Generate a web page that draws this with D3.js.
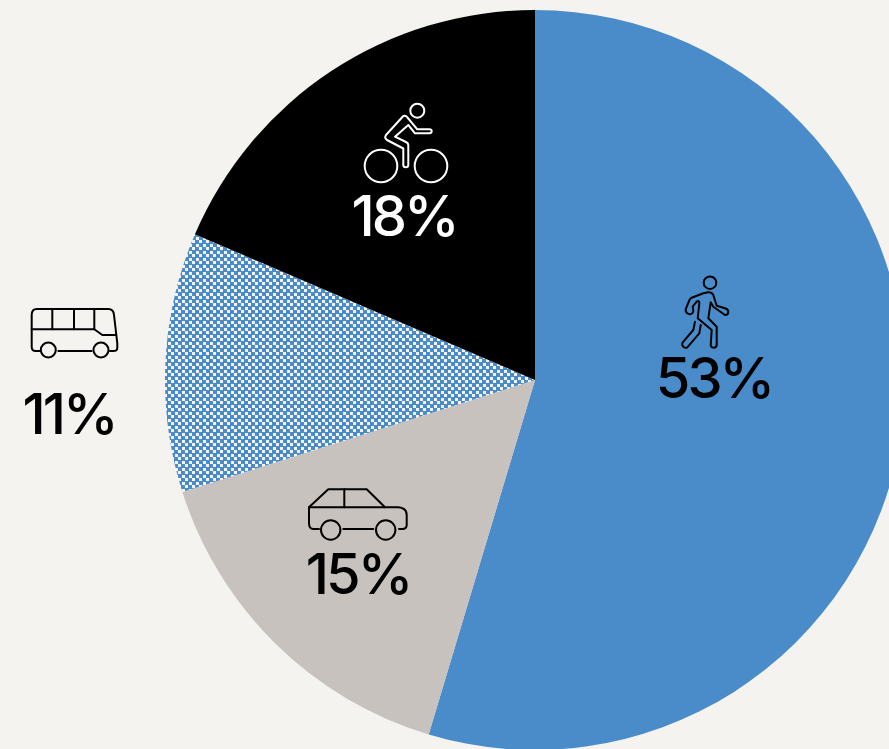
<!DOCTYPE html>
<html>
<head>
<meta charset="utf-8">
<script src="https://cdn.jsdelivr.net/npm/d3@7"></script>
<style>
html, body { margin: 0; padding: 0; background: #f4f3f0; overflow: hidden; }
text { font-family: Inter, sans-serif; font-weight: 500; font-size: 56px; letter-spacing: -3px; text-anchor: middle; }
.icon { fill: none; stroke-width: 2; stroke-linecap: round; stroke-linejoin: round; }
</style>
</head>
<body>
<script>
const categories = ['walk', 'car', 'bus', 'bike'];
const values = [53, 15, 11, 18];
const fills = ['#4a8cca', '#c8c2be', 'url(#check)', '#000000'];
const inkColors = ['#000', '#000', '#000', '#fff'];

// label and icon spots, measured from the pie centre
const labelSpots = [[179, 18], [-177, 214], [-466, 54], [-131, -144]];
const iconSpots = [[175, -68], [-177, 135], [-461, -49], [-129, -240]];

const icons = {
  walk: [
    'M-6.7-18.7-18.3-14.3Q-20-13.5-20.5-12L-24-3.7Q-25 0-22.7 1.3-19.5 3.5-17.5 1-16.5 0-16.7-1.5L-17.3-5.3-13.3-10.3Q-10.5-12-10.7-8.7L-12.3 6.3 1.7 18 .7 33Q1 35.7 3.3 35.7 6.7 35.7 6.7 33V14.7L-1.7 6.3 .7-9.7 3.3-5.3 15 3Q18.3 3 18.3-.3 18.3-2.5 15-3.7L6.7-6.3 3.3-17Q1.5-20-1.7-19.7Z',
    'M-15 9.7-16.7 18-27.3 30.3Q-28.5 33-26.7 34.7-24.5 36.5-22.7 35.3L-10.7 21.3-9.3 13'
  ],
  car: [
    'M-39 14H-44.7Q-49 14-49 8.3V-7.7L-29.7-25.7H8.7L27-7.7',
    'M-49-7.7H40.3Q48.7-7 48.7 0V10Q48.7 14 44.3 14H41',
    'M-13.7-25.7V-7.7',
    'M-14.7 14H15.3'
  ],
  bus: [
    'M-34 20H-38.3Q-42.3 20-42.3 15.7V-16Q-42.3-22-37.3-22H34.3Q39.5-22 40-16L43.3 12.3V17Q43.3 20 39.3 20H36',
    'M-42.3-1.7H20.3L28.3 4H42',
    'M-21.7-22V-1.7M0-22V-1.7M20.3-22V-1.7',
    'M-15.7 20H17.7'
  ],
  bike: [
    'M-2.7-24Q0-24.5 1-23L11.3-10.7H23.3Q25.7-10.7 25.7-8.7 25.7-6.7 23.3-6.7H9L2.3-15-11-3.3 0 2Q2.3 3 2.3 5V25Q2.3 27.3-.2 27.3-2.7 27.3-2.7 25V8.5L-19 0Q-22-2-20-5Z'
  ]
};
const wheels = {
  walk: [[0, -29.3, 6.3]],
  car: [[-27.3, 15, 9.7], [27.7, 15, 9.7]],
  bus: [[-25.7, 19, 7.5], [27, 19, 7.5]],
  bike: [[-25, 26, 16.3], [25, 26, 16.3], [11.3, -29.3, 7]]
};

const width = 889;
const height = 749;
const cx = 535;
const cy = 380;
const radius = 370;

const svg = d3.select('body')
  .append('svg')
  .attr('width', width)
  .attr('height', height)
  .style('display', 'block');

// checker fill for the bus slice
const cell = 7;
const dot = 3;
const pat = svg.append('defs')
  .append('pattern')
  .attr('id', 'check')
  .attr('width', cell)
  .attr('height', cell)
  .attr('patternUnits', 'userSpaceOnUse');
pat.append('rect').attr('width', cell).attr('height', cell).attr('fill', '#4a8cca');
pat.append('rect').attr('width', dot).attr('height', dot).attr('fill', '#f4f3f0');
pat.append('rect').attr('x', 4).attr('y', 4).attr('width', dot).attr('height', dot).attr('fill', '#f4f3f0');

const pie = d3.pie().sort(null)(values);
const arc = d3.arc().innerRadius(0).outerRadius(radius);

const g = svg.append('g').attr('transform', `translate(${cx}, ${cy})`);

g.selectAll('path.slice')
  .data(pie)
  .enter()
  .append('path')
  .attr('class', 'slice')
  .attr('d', arc)
  .attr('fill', (d, i) => fills[i]);

categories.forEach((name, i) => {
  const icon = g.append('g')
    .attr('class', 'icon')
    .attr('transform', `translate(${iconSpots[i][0]}, ${iconSpots[i][1]})`)
    .attr('stroke', inkColors[i]);
  icons[name].forEach(p => icon.append('path').attr('d', p));
  wheels[name].forEach(w => icon.append('circle').attr('cx', w[0]).attr('cy', w[1]).attr('r', w[2]));
});

g.selectAll('text')
  .data(values)
  .enter()
  .append('text')
  .attr('x', (d, i) => labelSpots[i][0])
  .attr('y', (d, i) => labelSpots[i][1])
  .attr('fill', (d, i) => inkColors[i])
  .text(d => `${d}%`);
</script>
</body>
</html>
